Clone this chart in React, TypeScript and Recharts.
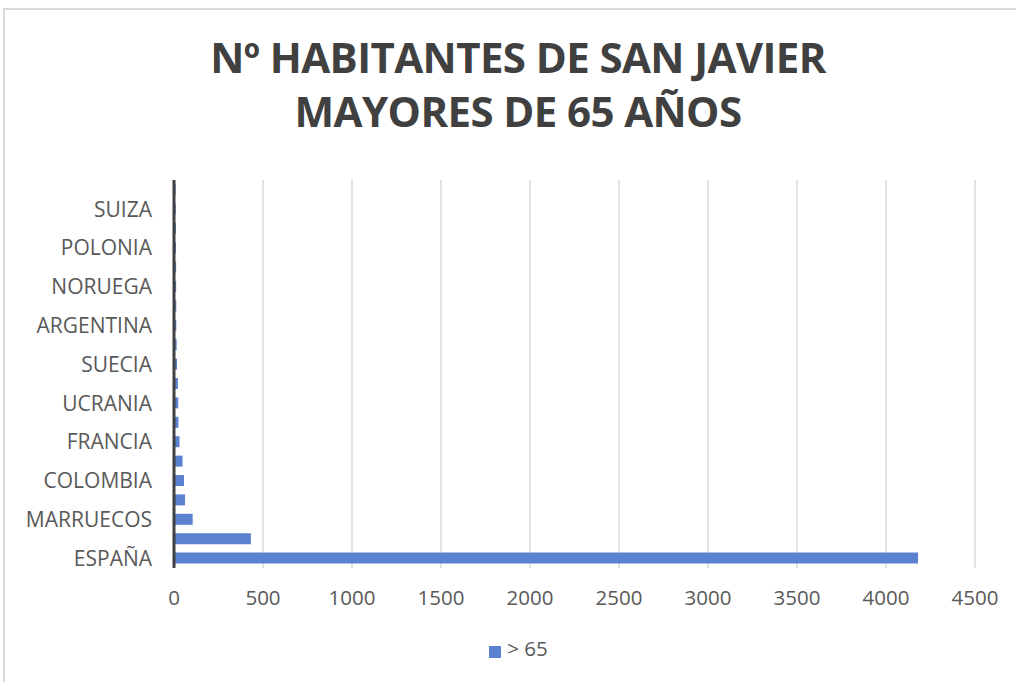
import { BarChart, Bar, XAxis, YAxis, CartesianGrid, Legend } from 'recharts';

const countries = [
    'ESPAÑA', 'REINO UNIDO', 'MARRUECOS', 'ALEMANIA', 'COLOMBIA',
    'BÉLGICA', 'FRANCIA', 'RUMANÍA', 'UCRANIA', 'ITALIA',
    'SUECIA', 'PAÍSES BAJOS', 'ARGENTINA', 'IRLANDA', 'NORUEGA',
    'ECUADOR', 'POLONIA', 'CUBA', 'SUIZA', 'VENEZUELA',
];
const over65 = [4180, 432, 105, 62, 56, 48, 31, 25, 24, 22, 17, 15, 13, 13, 12, 12, 11, 11, 10, 9];
const xTicks = [0, 500, 1000, 1500, 2000, 2500, 3000, 3500, 4000, 4500];

const data = countries.map((name, i) => ({ name, value: over65[i] }));

const font = '"Open Sans", sans-serif';

export default function App() {
    return (
        <div style={{ position: 'fixed', inset: 0, overflow: 'hidden', background: '#fff', fontFamily: font }}>
            {/* outer chart frame */}
            <div style={{ position: 'absolute', left: 3, top: 8, width: 1030, height: 700, border: '2px solid #d9d9d9' }} />
            <div
                style={{
                    position: 'absolute', left: 0, top: 30, width: 1036, textAlign: 'center',
                    fontSize: 42, lineHeight: '54px', fontWeight: 700, color: '#404040', letterSpacing: -0.6,
                }}
            >
                <div>Nº HABITANTES DE SAN JAVIER</div>
                <div>MAYORES DE 65 AÑOS</div>
            </div>
            <div style={{ position: 'absolute', left: 0, top: 0 }}>
                <BarChart
                    width={1016}
                    height={682}
                    data={data}
                    layout="vertical"
                    margin={{ top: 180, right: 41, left: 0, bottom: 8 }}
                >
                    <CartesianGrid horizontal={false} stroke="#d9d9d9" strokeWidth={1.5} />
                    <XAxis
                        type="number"
                        domain={[0, 4500]}
                        ticks={xTicks}
                        axisLine={false}
                        tickLine={false}
                        tickSize={0}
                        tickMargin={22}
                        height={66}
                        tick={{ fill: '#595959', fontSize: 20.5, fontFamily: font }}
                    />
                    <YAxis
                        type="category"
                        dataKey="name"
                        reversed
                        interval={1}
                        width={174}
                        tickLine={false}
                        tickSize={0}
                        tickMargin={22}
                        axisLine={{ stroke: '#404040', strokeWidth: 3 }}
                        tick={{ fill: '#595959', fontSize: 21, fontFamily: font }}
                    />
                    <Legend
                        verticalAlign="bottom"
                        align="center"
                        iconType="square"
                        iconSize={12}
                        wrapperStyle={{ height: 40, fontFamily: font, paddingLeft: 36 }}
                        formatter={(v) => (
                            <span style={{ color: '#595959', fontSize: 20.5, marginLeft: 2 }}>{v}</span>
                        )}
                    />
                    <Bar dataKey="value" name="> 65" fill="#5b82d0" barSize={11} isAnimationActive={false} />
                </BarChart>
            </div>
        </div>
    );
}
